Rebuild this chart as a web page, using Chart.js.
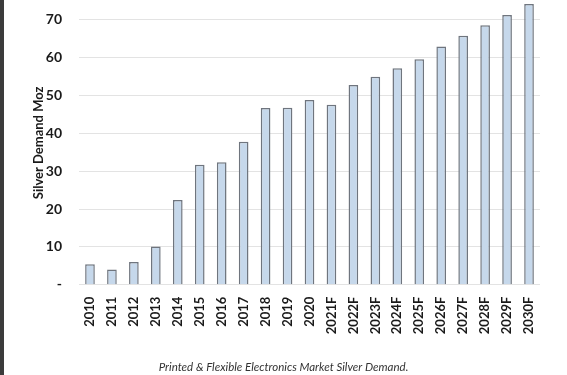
<!DOCTYPE html>
<html>
<head>
<meta charset="utf-8">
<script src="https://cdn.jsdelivr.net/npm/chart.js@4"></script>
<style>
  html, body { margin: 0; padding: 0; background: #fff; }
  #wrap { position: relative; width: 567px; height: 375px; }
  #edge { position: absolute; left: 0; top: 0; width: 4px; height: 375px; background: #3b3b3b; }
  canvas { position: absolute; left: 0; top: 0; }
</style>
</head>
<body>
<div id="wrap">
  <canvas id="chart" width="567" height="375"></canvas>
  <div id="edge"></div>
</div>
<script>
const years = ['2010', '2011', '2012', '2013', '2014', '2015', '2016', '2017', '2018', '2019', '2020',
    '2021F', '2022F', '2023F', '2024F', '2025F', '2026F', '2027F', '2028F', '2029F', '2030F'];
const demand = [5.4, 4.0, 6.0, 10.1, 22.4, 31.7, 32.4, 37.8, 46.7, 46.8, 48.8,
    47.6, 52.8, 55.0, 57.2, 59.6, 63.0, 65.8, 68.6, 71.3, 74.2];
const yTicks = [0, 10, 20, 30, 40, 50, 60, 70];

const textColor = '#1a1a1a';
const fontFam = 'Lato, "Open Sans", sans-serif';

const ctx = document.getElementById('chart').getContext('2d');
new Chart(ctx, {
    type: 'bar',
    data: {
        labels: years,
        datasets: [{
            data: demand,
            backgroundColor: '#c6d8eb',
            borderColor: '#6f757e',
            borderWidth: 1.5,
            barPercentage: 0.44,
            categoryPercentage: 1
        }]
    },
    options: {
        responsive: false,
        animation: false,
        layout: { padding: { left: 27, right: 27, top: 1, bottom: 1 } },
        plugins: {
            legend: { display: false },
            tooltip: { enabled: false },
            title: {
                display: true,
                position: 'bottom',
                text: 'Printed & Flexible Electronics Market Silver Demand.',
                color: '#333',
                font: { family: fontFam, size: 11.5, style: 'italic', weight: 'normal' },
                padding: { top: 22, bottom: 0 }
            }
        },
        scales: {
            x: {
                grid: { display: false },
                border: { display: false },
                afterFit: axis => {
                    axis.paddingLeft = 0;
                    axis.paddingRight = 0;
                },
                ticks: {
                    color: textColor,
                    font: { family: fontFam, size: 13, weight: 'bold' },
                    minRotation: 90,
                    maxRotation: 90,
                    padding: 4,
                    autoSkip: false
                }
            },
            y: {
                min: 0,
                max: 75,
                afterBuildTicks: axis => {
                    axis.ticks = yTicks.map(v => ({ value: v }));
                },
                afterFit: axis => {
                    axis.paddingTop = 0;
                    axis.width = 52;
                },
                grid: { color: '#e3e3e3', lineWidth: 1, drawTicks: false },
                border: { display: false },
                ticks: {
                    color: textColor,
                    padding: 17,
                    font: { family: fontFam, size: 14, weight: 'bold' },
                    callback: v => v === 0 ? '-' : v
                },
                title: {
                    display: true,
                    text: 'Silver Demand Moz',
                    color: textColor,
                    font: { family: fontFam, size: 13, weight: 'bold' },
                    padding: 4
                }
            }
        }
    }
});
</script>
</body>
</html>
